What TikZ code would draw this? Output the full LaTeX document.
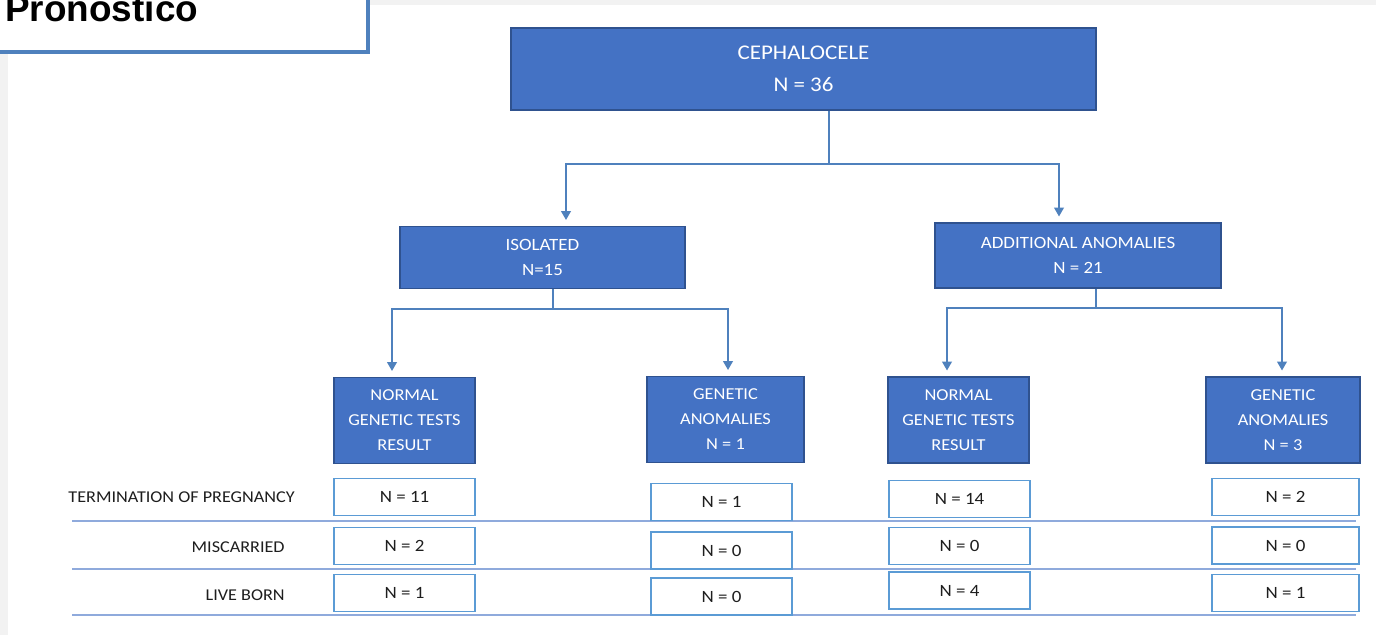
\documentclass[tikz,border=0pt]{standalone}
\usepackage{fontspec}
\setmainfont[FakeStretch=1.1]{Carlito}
\newfontfamily\titlefont{Liberation Sans}
\usetikzlibrary{arrows.meta,positioning}
\definecolor{boxfill}{HTML}{4472C4}
\definecolor{boxline}{HTML}{2F528F}
\definecolor{link}{HTML}{4F81BD}
\definecolor{cellline}{HTML}{5B9BD5}
\definecolor{rulecol}{HTML}{8FAADC}
\definecolor{slide}{HTML}{F2F2F2}
\definecolor{txt}{HTML}{1E1E1E}
\newlength\pxl
\setlength\pxl{0.02cm}

\begin{document}
\begin{tikzpicture}[
  x=0.02cm, y=-0.02cm,
  >={Triangle[width=5.5pt,length=5pt]},
  group/.style={rectangle, draw=boxline, line width=0.6pt, fill=boxfill, text=white, align=center, inner sep=0pt},
  rootbox/.style={group, minimum width=585\pxl, minimum height=82\pxl, font=\fontsize{11.9}{18.2}\selectfont},
  midbox/.style={group, minimum width=285\pxl, minimum height=62\pxl, font=\fontsize{9.8}{14.2}\selectfont},
  leafbox/.style={group, minimum width=141\pxl, minimum height=86\pxl, font=\fontsize{9.5}{14.2}\selectfont},
  cell/.style={rectangle, draw=cellline, line width=1.1pt, fill=white, text=txt, minimum width=141\pxl, minimum height=37\pxl, inner sep=0pt, font=\fontsize{9.8}{10}\selectfont},
  rowlbl/.style={anchor=east, inner sep=0pt, text=txt, font=\fontsize{9.4}{10}\selectfont},
  lnk/.style={draw=link, line width=0.85pt},
  arr/.style={->, lnk, shorten >=6\pxl},
  sep/.style={draw=rulecol, line width=0.8pt},
]
\useasboundingbox (0,0) rectangle (1376,635);
\clip (0,0) rectangle (1376,635);
\fill[slide] (0,0) rectangle (1376,635);
\fill[white] (8,5) rectangle (1376,635);

\node[draw=link, line width=1.8pt, fill=white, minimum width=373\pxl, minimum height=57\pxl, inner sep=0pt] (titlebox) at (181.5,23.5) {};
\node[anchor=base west, inner sep=0pt, font=\titlefont\bfseries\fontsize{21}{21}\selectfont] (title) at (5,22) {Pronostico};

\node[rootbox] (ceph) at (803.5,69) {CEPHALOCELE\\N = 36};

\node[midbox] (iso) at (542.5,257.5) {ISOLATED\\N=15};
\node[midbox, minimum height=65\pxl, minimum width=286\pxl] (add) at (1078,255.5) {ADDITIONAL ANOMALIES\\N = 21};

\node[leafbox] (norm1) at (404.5,420.5) {NORMAL\\GENETIC TESTS\\RESULT};
\node[leafbox, minimum width=157\pxl] (gen1) at (725.5,419.5) {GENETIC\\ANOMALIES\\N = 1};
\node[leafbox] (norm2) at (958.5,420) {NORMAL\\GENETIC TESTS\\RESULT};
\node[leafbox, minimum width=154\pxl] (gen2) at (1283,420) {GENETIC\\ANOMALIES\\N = 3};

\coordinate (cephj) at (829,164);
\draw[lnk] (ceph.south -| cephj) -- (cephj);
\draw[arr] (cephj) -| ([xshift=23.5\pxl]iso.north);
\draw[arr] (cephj) -| ([xshift=-19\pxl]add.north);

\coordinate (isoj) at (553,309);
\draw[lnk] (iso.south -| isoj) -- (isoj);
\draw[arr] (isoj) -| ([xshift=-12.5\pxl]norm1.north);
\draw[arr] (isoj) -| ([xshift=2.5\pxl]gen1.north);

\coordinate (addj) at (1096,308);
\draw[lnk] (add.south -| addj) -- (addj);
\draw[arr] (addj) -| ([xshift=-11.5\pxl]norm2.north);
\draw[arr] (addj) -| ([xshift=-1\pxl]gen2.north);

\node[rowlbl] (toplbl) at (295,497) {TERMINATION OF PREGNANCY};
\node[rowlbl] (misslbl) at (285,547) {MISCARRIED};
\node[rowlbl] (livelbl) at (285,595) {LIVE BORN};

\draw[sep] (72,521) -- (1356,521);
\draw[sep] (72,569) -- (1356,569);
\draw[sep] (72,615) -- (1356,615);

\node[cell] (c11) at (404.5,497) {N = 11};
\node[cell] (c12) at (404.5,546) {N = 2};
\node[cell] (c13) at (404.5,593) {N = 1};

\node[cell] (c21) at (721.5,502) {N = 1};
\node[cell] (c22) at (721.5,550.5) {N = 0};
\node[cell] (c23) at (721.5,596.5) {N = 0};

\node[cell] (c31) at (959.5,499) {N = 14};
\node[cell] (c32) at (959.5,546) {N = 0};
\node[cell] (c33) at (959.5,590.5) {N = 4};

\node[cell, minimum width=147\pxl] (c41) at (1285.5,497) {N = 2};
\node[cell, minimum width=147\pxl] (c42) at (1285.5,545.5) {N = 0};
\node[cell, minimum width=147\pxl] (c43) at (1285.5,593) {N = 1};

\end{tikzpicture}
\end{document}
